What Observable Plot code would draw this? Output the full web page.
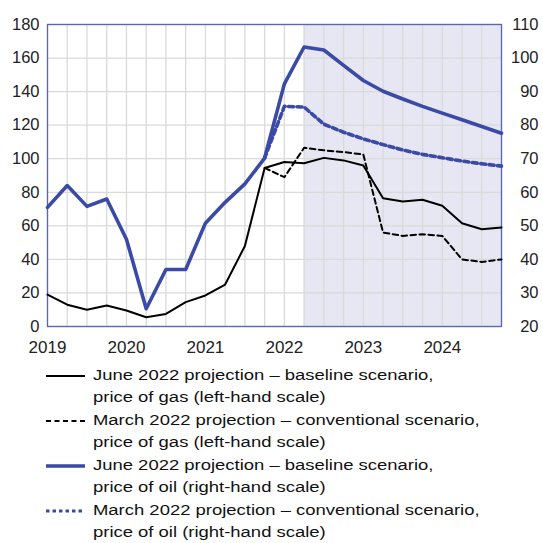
<!DOCTYPE html>
<html><head><meta charset="utf-8">
<script src="https://cdn.jsdelivr.net/npm/d3@7"></script>
<script src="https://cdn.jsdelivr.net/npm/@observablehq/plot@0.6"></script>
<style>
body{margin:0;background:#fff;font-family:"Liberation Sans",Arial,sans-serif;}
#legend{margin-top:6px;padding-left:46px;color:#111;font-size:15.5px;line-height:22.45px;}
.item{display:flex;align-items:flex-start;}
.item svg{flex:none;margin-right:8px;}
.item .txt{transform:scaleX(1.19);transform-origin:left center;white-space:nowrap;}
</style></head><body>
<div id="chart"></div>
<div id="legend"></div>
<script>
// quarters Q1 2019 .. Q4 2024
const quarters = ["2019Q1","2019Q2","2019Q3","2019Q4","2020Q1","2020Q2","2020Q3","2020Q4",
  "2021Q1","2021Q2","2021Q3","2021Q4","2022Q1","2022Q2","2022Q3","2022Q4",
  "2023Q1","2023Q2","2023Q3","2023Q4","2024Q1","2024Q2","2024Q3","2024Q4"];
const years = [2019, 2020, 2021, 2022, 2023, 2024];
const leftTicks = [0, 20, 40, 60, 80, 100, 120, 140, 160, 180];
const rightTicks = [20, 30, 40, 50, 60, 70, 80, 90, 100, 110];
// gas (left-hand scale), June 2022 projection – baseline
const gasJune = [19, 13, 10, 12.5, 9.5, 5.5, 7.5, 14.5, 18.5, 25, 48, 94.5, 98, 97.3, 100.5, 99, 96, 76.5, 74.5, 75.5, 72, 61.5, 58, 59];
// gas, March 2022 projection – conventional (from 2021Q4)
const gasMarch = [94.5, 89, 106.5, 105, 104, 102.5, 56, 54, 55, 54, 40, 38.5, 40];
// oil (right-hand scale), June 2022 projection – baseline
const oilJune = [55.5, 62, 55.8, 58, 46, 25.3, 37, 37, 50.8, 57, 62.5, 70.2, 92.3, 103.3, 102.4, 97.8, 93.3, 90.1, 87.8, 85.6, 83.6, 81.6, 79.6, 77.6];
// oil, March 2022 projection – conventional (from 2021Q4)
const oilMarch = [70.2, 85.6, 85.4, 80.3, 77.9, 75.9, 74.2, 72.6, 71.3, 70.3, 69.3, 68.5, 67.8];
const projectionStart = "2022Q2";

const qnum = s => +s.slice(0, 4) + (+s.slice(5) - 1) / 4;
const qx = quarters.map(qnum);
const marchStart = quarters.indexOf("2021Q4");
// right-hand scale (20..110) mapped onto left-hand scale (0..180)
const toLeft = v => (v - 20) * 2;

const rows = (arr, off = 0, f = v => v) => arr.map((v, i) => ({x: qx[i + off], y: f(v)}));

const blue = "#3a4aa6";
const chart = Plot.plot({
  width: 543, height: 358,
  marginTop: 24, marginBottom: 32, marginLeft: 47, marginRight: 42,
  style: {fontFamily: "Liberation Sans, Arial, sans-serif", fontSize: "16.5px", color: "#222", background: "transparent"},
  x: {domain: [qx[0], qx[qx.length - 1]]},
  y: {domain: [0, 180]},
  marks: [
    Plot.rect([{a: qnum(projectionStart), b: qx[qx.length - 1]}], {x1: "a", x2: "b", y1: 0, y2: 180, fill: "#e6e7f2"}),
    Plot.ruleX(qx, {stroke: "#dadada", strokeWidth: 1.3}),
    Plot.ruleY(leftTicks, {stroke: "#dadada", strokeWidth: 1.3}),
    Plot.axisX(years, {tickSize: 0, tickPadding: 14, tickFormat: d => String(d), label: null, fontSize: 17}),
    Plot.axisY(leftTicks, {anchor: "left", tickSize: 0, tickPadding: 8, label: null}),
    Plot.text(rightTicks, {y: toLeft, text: d => String(d), frameAnchor: "right", textAnchor: "end", dx: 37, fill: "#222"}),
    Plot.frame({stroke: "#5866b6", strokeWidth: 1.3}),
    Plot.line(rows(gasJune), {x: "x", y: "y", stroke: "#000", strokeWidth: 2}),
    Plot.line(rows(gasMarch, marchStart), {x: "x", y: "y", stroke: "#000", strokeWidth: 2, strokeDasharray: "5.5,3.5"}),
    Plot.line(rows(oilMarch, marchStart, toLeft), {x: "x", y: "y", stroke: blue, strokeWidth: 3.6, strokeDasharray: "5,3.5"}),
    Plot.line(rows(oilJune, 0, toLeft), {x: "x", y: "y", stroke: blue, strokeWidth: 3.6})
  ]
});
document.getElementById("chart").append(chart);

const legendItems = [
  {lines: ["June 2022 projection – baseline scenario,", "price of gas (left-hand scale)"], color: "#000", width: 2, dash: null},
  {lines: ["March 2022 projection – conventional scenario,", "price of gas (left-hand scale)"], color: "#000", width: 2, dash: "5,3.5"},
  {lines: ["June 2022 projection – baseline scenario,", "price of oil (right-hand scale)"], color: blue, width: 3.6, dash: null},
  {lines: ["March 2022 projection – conventional scenario,", "price of oil (right-hand scale)"], color: blue, width: 3, dash: "3.5,3"}
];
const leg = document.getElementById("legend");
for (const it of legendItems) {
  const div = document.createElement("div");
  div.className = "item";
  div.innerHTML = `<svg width="39" height="22" style="margin-top:1px"><line x1="0" x2="39" y1="11" y2="11" stroke="${it.color}" stroke-width="${it.width}" ${it.dash ? `stroke-dasharray="${it.dash}"` : ""}/></svg><div class="txt">${it.lines.join("<br>")}</div>`;
  leg.append(div);
}
</script>
</body></html>
